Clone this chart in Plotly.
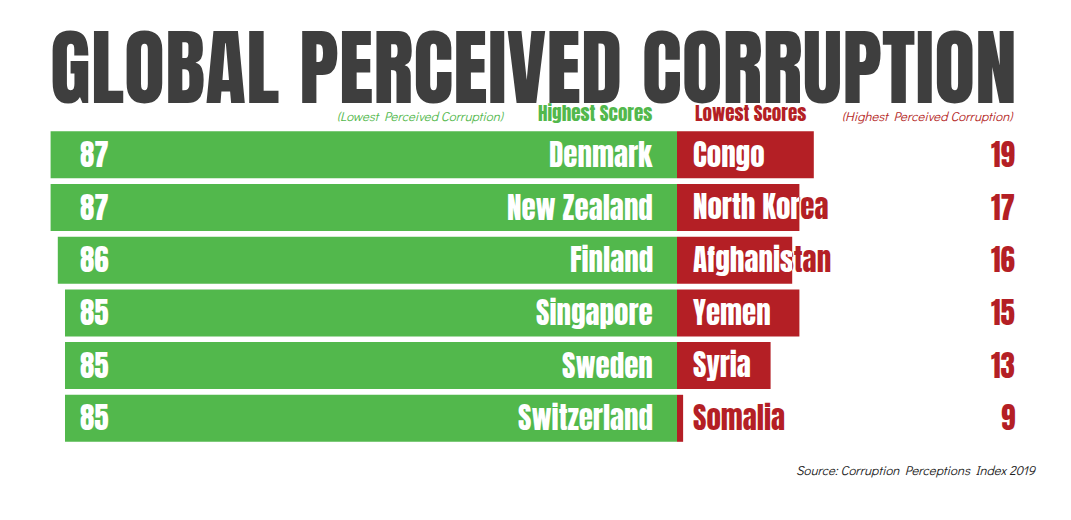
import plotly.graph_objects as go

# ---------------- data ----------------
high_countries = ["Denmark", "New Zealand", "Finland", "Singapore", "Sweden", "Switzerland"]
high_scores = [87, 87, 86, 85, 85, 85]
low_countries = ["Congo", "North Korea", "Afghanistan", "Yemen", "Syria", "Somalia"]
low_scores = [19, 17, 16, 15, 13, 9]
# red bar extents as they are drawn in the reference picture
low_bar_lengths = [19, 17, 16, 17, 13, 0.85]

title_text = "GLOBAL PERCEIVED CORRUPTION"
source_text = "Source: Corruption Perceptions Index 2019"

# ---------------- layout constants ----------------
W, H = 1071, 520
UNIT = 7.2          # px per score point
ZERO_PX = 677       # x pixel of the zero line
ROW0_PX = 154.8     # y pixel of first row centre
ROW_PX = 52.7       # row pitch in px
TEXT_DY = 4.5 / ROW_PX   # nudge for scatter-text vertical centring

GREEN = "#52b84c"
RED = "#b41f25"
DARK = "#3e3e3e"
HEAVY = "Anton, Oswald, sans-serif"
LIGHT = "Didact Gothic, Questrial, sans-serif"
LBL = 29

x_range = [-ZERO_PX / UNIT, (W - ZERO_PX) / UNIT]
y_range = [(H - ROW0_PX) / ROW_PX, -ROW0_PX / ROW_PX]


def dx(px):
    return (px - ZERO_PX) / UNIT


def paper_x(px):
    return px / W


def paper_y(py):
    return 1 - py / H


rows = list(range(len(high_countries)))
text_rows = [r + TEXT_DY for r in rows]

fig = go.Figure()

fig.add_trace(go.Bar(
    y=rows, x=[-s for s in high_scores], orientation="h", width=0.892,
    marker=dict(color=GREEN, line=dict(width=0)), hoverinfo="skip",
))
fig.add_trace(go.Bar(
    y=rows, x=low_bar_lengths, orientation="h", width=0.892,
    marker=dict(color=RED, line=dict(width=0)), hoverinfo="skip",
))

# red country names (visible where they run past the red bar)
fig.add_trace(go.Scatter(
    y=text_rows, x=[dx(693)] * len(rows), mode="text", text=low_countries,
    textposition="middle right", cliponaxis=False,
    textfont=dict(family=HEAVY, size=LBL, color=RED),
    hoverinfo="skip",
))

# white copies of the red names, clipped to each red bar
layout_axes = {}
for i, (name, blen) in enumerate(zip(low_countries, low_bar_lengths)):
    ax_id = i + 2
    fig.add_trace(go.Scatter(
        y=[text_rows[i]], x=[dx(693)], mode="text", text=[name],
        textposition="middle right", cliponaxis=True,
        textfont=dict(family=HEAVY, size=LBL, color="white"),
        xaxis=f"x{ax_id}", yaxis="y", hoverinfo="skip",
    ))
    layout_axes[f"xaxis{ax_id}"] = dict(
        domain=[paper_x(ZERO_PX), paper_x(ZERO_PX + blen * UNIT)],
        range=[0, blen], visible=False, fixedrange=True, anchor="y",
    )

annotations = []
for i in rows:
    annotations.append(dict(
        x=dx(78), y=rows[i], xref="x", yref="y", text=str(high_scores[i]),
        xanchor="left", yanchor="middle", showarrow=False,
        font=dict(family=HEAVY, size=LBL, color="white"),
    ))
    annotations.append(dict(
        x=dx(655), y=rows[i], xref="x", yref="y", text=high_countries[i],
        xanchor="right", yanchor="middle", showarrow=False,
        font=dict(family=HEAVY, size=LBL, color="white"),
    ))
    annotations.append(dict(
        x=dx(1017), y=rows[i], xref="x", yref="y", text=str(low_scores[i]),
        xanchor="right", yanchor="middle", showarrow=False,
        font=dict(family=HEAVY, size=LBL, color=RED),
    ))

annotations += [
    dict(x=paper_x(533), y=paper_y(68), xref="paper", yref="paper", text=title_text,
         xanchor="center", yanchor="middle", showarrow=False,
         font=dict(family=HEAVY, size=84, color=DARK)),
    dict(x=paper_x(507), y=paper_y(115), xref="paper", yref="paper",
         text="<i>(Lowest Perceived Corruption)</i>", xanchor="right", yanchor="middle",
         showarrow=False, font=dict(family=LIGHT, size=13, color=GREEN)),
    dict(x=paper_x(654), y=paper_y(113), xref="paper", yref="paper",
         text="Highest Scores", xanchor="right", yanchor="middle", showarrow=False,
         font=dict(family=HEAVY, size=19, color=GREEN)),
    dict(x=paper_x(693), y=paper_y(113), xref="paper", yref="paper",
         text="Lowest Scores", xanchor="left", yanchor="middle", showarrow=False,
         font=dict(family=HEAVY, size=19, color=RED)),
    dict(x=paper_x(1016), y=paper_y(115), xref="paper", yref="paper",
         text="<i>(Highest Perceived Corruption)</i>", xanchor="right", yanchor="middle",
         showarrow=False, font=dict(family=LIGHT, size=13, color=RED)),
    dict(x=paper_x(1039), y=paper_y(469), xref="paper", yref="paper",
         text=f"<i>{source_text}</i>", xanchor="right", yanchor="middle",
         showarrow=False, font=dict(family=LIGHT, size=13, color="#222222")),
]

fig.update_layout(
    width=W, height=H,
    margin=dict(l=0, r=0, t=0, b=0),
    paper_bgcolor="white", plot_bgcolor="rgba(0,0,0,0)",
    barmode="overlay", showlegend=False,
    xaxis=dict(range=x_range, visible=False, fixedrange=True),
    yaxis=dict(range=y_range, visible=False, fixedrange=True),
    annotations=annotations,
    **layout_axes,
)

fig.write_html("out.html", config={"displayModeBar": False},
               post_script="document.body.style.margin='0px';")
